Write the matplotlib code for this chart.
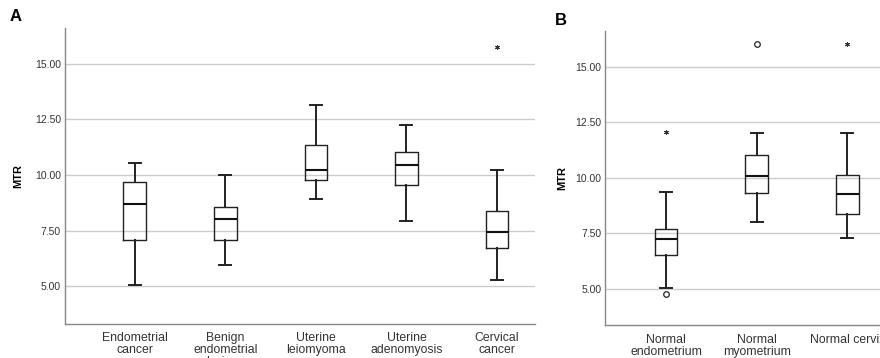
import matplotlib
matplotlib.use("Agg")
import matplotlib.pyplot as plt

plt.rcParams['font.family'] = ['Liberation Sans', 'DejaVu Sans']

# Panel A data (five-number summaries)
catsA = ["Endometrial\ncancer", "Benign\nendometrial\nlesions", "Uterine\nleiomyoma",
         "Uterine\nadenomyosis", "Cervical\ncancer"]
lowA = [5.05, 5.95, 8.94, 7.93, 5.30]
q1A = [7.10, 7.10, 9.76, 9.57, 6.74]
medA = [8.68, 8.04, 10.21, 10.45, 7.46]
q3A = [9.70, 8.54, 11.33, 11.02, 8.37]
highA = [10.54, 10.00, 13.13, 12.23, 10.21]
starA_pos = [5]
starA_val = [15.75]

# Panel B data
catsB = ["Normal\nendometrium", "Normal\nmyometrium", "Normal cervix"]
lowB = [5.01, 7.99, 7.27]
q1B = [6.50, 9.32, 8.36]
medB = [7.22, 10.09, 9.27]
q3B = [7.67, 11.02, 10.14]
highB = [9.34, 12.03, 12.03]
circB_pos = [1, 2]
circB_val = [4.76, 16.02]
starB_pos = [1, 3]
starB_val = [12.07, 16.02]

yticks = [5.0, 7.5, 10.0, 12.5, 15.0]


def draw_panel(ax, cats, low, q1, med, q3, high, lpad):
    stats = []
    for i in range(len(cats)):
        stats.append({'whislo': low[i], 'q1': q1[i], 'med': med[i],
                      'q3': q3[i], 'whishi': high[i], 'fliers': []})
    pos = list(range(1, len(cats) + 1))
    ax.bxp(stats, positions=pos, widths=0.25, showfliers=False,
           boxprops=dict(color='#222222', linewidth=1.0),
           medianprops=dict(color='#111111', linewidth=1.5),
           whiskerprops=dict(color='#222222', linewidth=1.4),
           capprops=dict(color='#222222', linewidth=1.4),
           capwidths=0.13, zorder=3)
    ax.set_yticks(yticks)
    ax.set_yticklabels([f"{v:.2f}" for v in yticks], fontsize=7.5, color='#333333')
    ax.set_xticks(pos)
    ax.set_xticklabels(cats, fontsize=8.8, color='#333333', linespacing=1.0)
    ax.tick_params(axis='both', length=0)
    ax.tick_params(axis='y', pad=3)
    ax.tick_params(axis='x', pad=6)
    ax.grid(axis='y', color='#cccccc', linewidth=1.0, zorder=0)
    ax.set_axisbelow(True)
    for s in ['top', 'right']:
        ax.spines[s].set_visible(False)
    for s in ['left', 'bottom']:
        ax.spines[s].set_color('#888888')
        ax.spines[s].set_linewidth(1.0)
    ax.set_ylabel("MTR", fontsize=8, fontweight='bold', labelpad=lpad)


fig = plt.figure(figsize=(8.8, 3.58), dpi=100)

axA = fig.add_axes([0.0739, 0.0958, 0.534, 0.826])
draw_panel(axA, catsA, lowA, q1A, medA, q3A, highA, 8)
axA.plot(starA_pos, starA_val, linestyle='none', marker=(6, 2, 0), markersize=3.5,
         color='#333333', markeredgewidth=0.7)
axA.set_xlim(0.23, 5.42)
axA.set_ylim(3.32, 16.6)

axB = fig.add_axes([0.688, 0.0913, 0.312, 0.823])
draw_panel(axB, catsB, lowB, q1B, medB, q3B, highB, 6)
axB.plot(circB_pos, circB_val, linestyle='none', marker='o', markersize=4,
         markerfacecolor='white', markeredgecolor='#222222', markeredgewidth=0.9)
axB.plot(starB_pos, starB_val, linestyle='none', marker=(6, 2, 0), markersize=3.5,
         color='#333333', markeredgewidth=0.7)
axB.set_xlim(0.33, 3.36)
axB.set_ylim(3.35, 16.62)

fig.text(0.011, 0.94, "A", fontsize=12, fontweight='bold')
fig.text(0.631, 0.93, "B", fontsize=12, fontweight='bold')

fig.savefig("out.png", dpi=100)
